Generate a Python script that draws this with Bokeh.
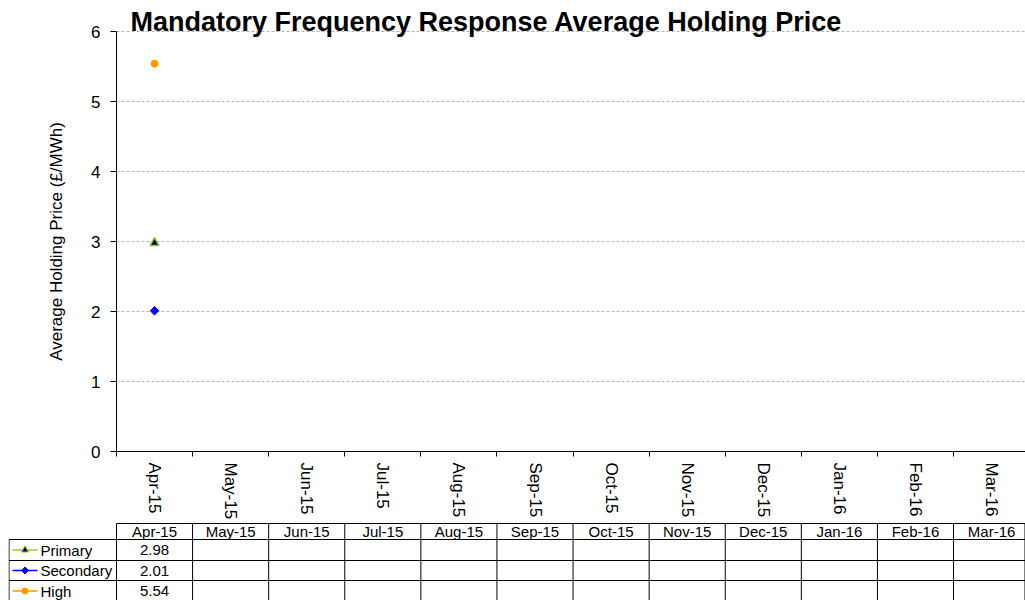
import math
from bokeh.plotting import figure
from bokeh.models import Range1d, FixedTicker, ColumnDataSource, Label
from bokeh.layouts import column
from bokeh.core.properties import value
from bokeh.embed import file_html
from bokeh.resources import INLINE

# ---- data ----
months = ["Apr-15", "May-15", "Jun-15", "Jul-15", "Aug-15", "Sep-15",
          "Oct-15", "Nov-15", "Dec-15", "Jan-16", "Feb-16", "Mar-16"]
primary = [2.98, None, None, None, None, None, None, None, None, None, None, None]
secondary = [2.01, None, None, None, None, None, None, None, None, None, None, None]
high = [5.54, None, None, None, None, None, None, None, None, None, None, None]
series_names = ["Primary", "Secondary", "High"]
y_ticks = [0, 1, 2, 3, 4, 5, 6]
title_text = "Mandatory Frequency Response Average Holding Price"
y_title = "Average Holding Price (\u00a3/MWh)"

FONT = "Liberation Sans"
W = 1025
H1 = 520
H2 = 80
AXIS_PX = 116        # where the value axis sits
LEFT = 8             # frame left (table edge)
TOP = 31             # pixel row of the top value
PXU = 70.0           # pixels per value unit
XEND = 11.946
SCALE = (W - AXIS_PX) / XEND        # px per category
XS = -(AXIS_PX - LEFT) / SCALE      # frame start in data units
px = 1.0 / SCALE
YMAX = 6
Y_TOP = YMAX + TOP / PXU
Y_BOT = -(H1 - TOP - YMAX * PXU) / PXU

centers = [i + 0.5 for i in range(len(months))]
bounds = [float(i) for i in range(len(months) + 1)]

def clean(vals):
    return [float("nan") if v is None else v for v in vals]

# ---- chart ----
p = figure(width=W, height=H1, x_range=Range1d(XS, XEND), y_range=Range1d(Y_BOT, Y_TOP),
           output_backend="svg", toolbar_location=None,
           min_border_left=LEFT, min_border_right=0, min_border_top=0,
           min_border_bottom=0)
p.outline_line_color = None
p.background_fill_color = "white"
p.border_fill_color = "white"

xa = p.xaxis[0]
xa.fixed_location = 0
xa.ticker = FixedTicker(ticks=centers, minor_ticks=bounds)
xa.major_label_overrides = {c: m for c, m in zip(centers, months)}
xa.bounds = (0, XEND)
xa.major_tick_out = 0
xa.major_tick_in = 0
xa.minor_tick_out = 5
xa.minor_tick_in = 0
xa.minor_tick_line_color = "black"
xa.axis_line_color = "black"
xa.major_label_orientation = "vertical"
xa.major_label_standoff = 6
xa.major_label_text_font = FONT
xa.major_label_text_font_size = "17px"
xa.major_label_text_color = "black"

ya = p.yaxis[0]
ya.fixed_location = 0
ya.bounds = (0, YMAX)
ya.ticker = FixedTicker(ticks=y_ticks)
ya.major_tick_out = 6
ya.major_tick_in = 0
ya.minor_tick_out = 0
ya.minor_tick_in = 0
ya.axis_line_color = "black"
ya.major_tick_line_color = "black"
ya.major_label_standoff = 10
ya.major_label_text_font = FONT
ya.major_label_text_font_size = "17px"
ya.major_label_text_color = "black"
ya.axis_label = y_title
ya.axis_label_text_font = FONT
ya.axis_label_text_font_size = "17px"
ya.axis_label_text_font_style = "normal"
ya.axis_label_text_color = "black"
ya.axis_label_standoff = 22

p.xgrid.visible = False
yg = p.ygrid[0]
gy = [v for v in y_ticks if v > 0]
if hasattr(yg, "cross_bounds"):
    yg.ticker = FixedTicker(ticks=gy)
    yg.cross_bounds = (0, XEND)
    yg.grid_line_color = "#B4B4B4"
    yg.grid_line_dash = "3 2"
else:
    yg.visible = False
    p.segment(x0=[0] * len(gy), y0=gy, x1=[XEND] * len(gy), y1=gy,
              line_color="#B4B4B4", line_dash="3 2", line_width=1)

p.add_layout(Label(x=XS + (130 - LEFT) * px, y=YMAX + 9.7 / PXU, text=title_text,
                   text_font=FONT, text_font_style="bold", text_font_size="27px",
                   text_baseline="alphabetic", text_align="left", text_color="black"))

colors = {"Primary": "#99CC33", "Secondary": "#0000FF", "High": "#FF9900"}

src = ColumnDataSource(dict(x=centers, primary=clean(primary),
                            secondary=clean(secondary), high=clean(high)))
p.line("x", "primary", source=src, line_color=colors["Primary"], line_width=1.5)
p.line("x", "secondary", source=src, line_color=colors["Secondary"], line_width=1.5)
p.line("x", "high", source=src, line_color=colors["High"], line_width=1.5)
p.scatter("x", "primary", source=src, marker="triangle", size=9,
          fill_color="#000080", line_color="#99CC00", line_width=1.5)
p.scatter("x", "secondary", source=src, marker="square", size=6, angle=math.pi / 4,
          fill_color="#0000FF", line_color="#0000FF")
p.scatter("x", "high", source=src, marker="circle", size=7,
          fill_color="#FF9900", line_color="#FF9900")

# ---- data table ----
t = figure(width=W, height=H2, x_range=Range1d(XS, XEND), y_range=Range1d(H2, 0),
           output_backend="svg", toolbar_location=None, min_border=0,
           min_border_left=LEFT, min_border_right=0,
           x_axis_type=None, y_axis_type=None)
t.outline_line_color = None
t.background_fill_color = "white"
t.border_fill_color = "white"

row_tops = [3, 19, 40, 60, 81]
leg_left = XS + 0.5 * px
right_edge = XEND - 0.5 * px

x0s, y0s, x1s, y1s = [], [], [], []
x0s.append(0); y0s.append(row_tops[0]); x1s.append(XEND); y1s.append(row_tops[0])
for yy in row_tops[1:]:
    x0s.append(leg_left); y0s.append(yy); x1s.append(XEND); y1s.append(yy)
for b in bounds:
    if b < XEND:
        x0s.append(b); y0s.append(row_tops[0]); x1s.append(b); y1s.append(row_tops[-1])
x0s.append(right_edge); y0s.append(row_tops[0]); x1s.append(right_edge); y1s.append(row_tops[-1])
x0s.append(leg_left); y0s.append(row_tops[1]); x1s.append(leg_left); y1s.append(row_tops[-1])
t.segment(x0=x0s, y0=y0s, x1=x1s, y1=y1s, line_color="black", line_width=1)

hy = (row_tops[0] + row_tops[1]) / 2
t.text(x=centers, y=[hy] * len(months), text=months, text_font=value(FONT),
       text_font_size=value("15px"), text_align="center", text_baseline="middle",
       text_color="black")

all_series = [primary, secondary, high]
markers = ["triangle", "square", "circle"]
mangle = [0, math.pi / 4, 0]
mfill = ["#000080", "#0000FF", "#FF9900"]
mline = ["#99CC00", "#0000FF", "#FF9900"]
msize = [7, 5, 6]
for r, (name, vals) in enumerate(zip(series_names, all_series)):
    cy = (row_tops[r + 1] + row_tops[r + 2]) / 2
    xs = [c for c, v in zip(centers, vals) if v is not None]
    txt = ["%.2f" % v for v in vals if v is not None]
    t.text(x=xs, y=[cy] * len(xs), text=txt, text_font=value(FONT),
           text_font_size=value("15px"), text_align="center", text_baseline="middle",
           text_color="black")
    t.text(x=[XS + 32 * px], y=[cy], text=[name], text_font=value(FONT),
           text_font_size=value("15px"), text_align="left", text_baseline="middle",
           text_color="black")
    t.segment(x0=[XS + 4 * px], y0=[cy], x1=[XS + 29 * px], y1=[cy],
              line_color=colors[name], line_width=1.5)
    t.scatter(x=[XS + 16.5 * px], y=[cy], marker=markers[r], size=msize[r],
              angle=mangle[r], fill_color=mfill[r], line_color=mline[r])

layout = column(p, t)
open("out.html", "w").write(file_html(layout, INLINE))
